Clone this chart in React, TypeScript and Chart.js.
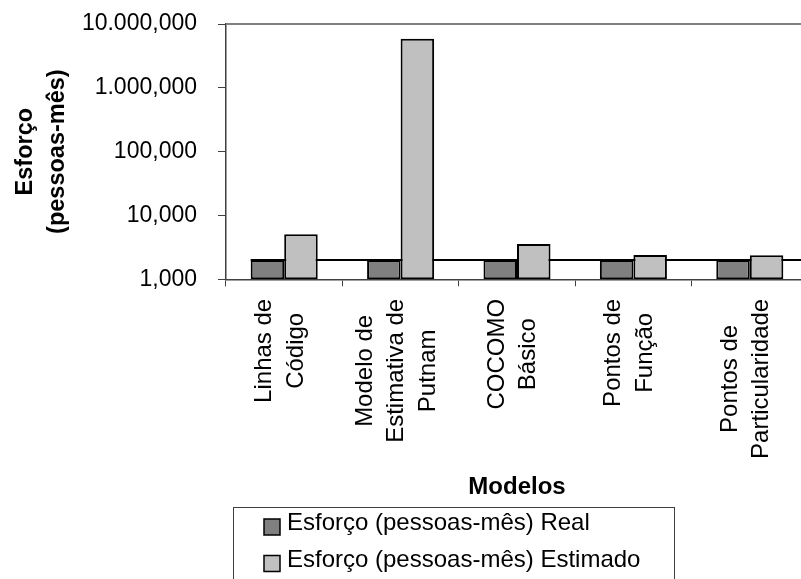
import React, { useEffect, useRef } from "react";
import { Chart, registerables } from "chart.js";

Chart.register(...registerables);

// ---- data ----
const CATEGORY_LINES: string[][] = [
  ["Linhas de", "Código"],
  ["Modelo de", "Estimativa de", "Putnam"],
  ["COCOMO", "Básico"],
  ["Pontos de", "Função"],
  ["Pontos de", "Particularidade"],
];
const SERIES_LABELS = ["Esforço (pessoas-mês) Real", "Esforço (pessoas-mês) Estimado"];
const REAL = [2000, 2000, 2000, 2000, 2000];
const ESTIMADO = [5100, 5900000, 3580, 2400, 2380];
const REFERENCE_LINE = 2000;
const Y_TICK_VALUES = [1000, 10000, 100000, 1000000, 10000000];
const Y_TICK_LABELS = ["1,000", "10,000", "100,000", "1.000,000", "10.000,000"];
const Y_TITLE = ["Esforço", "(pessoas-mês)"];
const X_TITLE = "Modelos";

const FONT = "'Liberation Sans', Arial, sans-serif";
const COLORS = ["#808080", "#c0c0c0"];

const plotFramePlugin = {
  id: "plotFrame",
  beforeDatasetsDraw(chart: any) {
    const { ctx, chartArea } = chart;
    ctx.save();
    ctx.strokeStyle = "#808080";
    ctx.lineWidth = 2;
    ctx.beginPath();
    ctx.moveTo(chartArea.left, chartArea.top);
    ctx.lineTo(chartArea.right, chartArea.top);
    ctx.lineTo(chartArea.right, chartArea.bottom);
    ctx.stroke();
    // reference line at real effort
    const y = chart.scales.y.getPixelForValue(REFERENCE_LINE);
    const first = chart.getDatasetMeta(0).data[0] as any;
    const x0 = first.x - first.width / 2;
    ctx.strokeStyle = "#000";
    ctx.lineWidth = 2;
    ctx.beginPath();
    ctx.moveTo(x0, y);
    ctx.lineTo(chartArea.right, y);
    ctx.stroke();
    ctx.restore();
  },
};

const categoryLabelPlugin = {
  id: "categoryLabels",
  afterDraw(chart: any) {
    const { ctx, chartArea } = chart;
    const xs = chart.scales.x;
    const size = 24;
    const lineH = 31.7;
    ctx.save();
    ctx.font = `${size}px ${FONT}`;
    ctx.fillStyle = "#000";
    ctx.textAlign = "center";
    ctx.textBaseline = "middle";
    CATEGORY_LINES.forEach((lines, i) => {
      const cx = xs.getPixelForValue(i) - 4;
      const maxW = Math.max(...lines.map((l) => ctx.measureText(l).width));
      const cy = chartArea.bottom + 19.5 + maxW / 2;
      const n = lines.length;
      lines.forEach((line, j) => {
        ctx.save();
        ctx.translate(cx + (j - (n - 1) / 2) * lineH, cy);
        ctx.rotate(-Math.PI / 2);
        ctx.fillText(line, 0, 0);
        ctx.restore();
      });
    });
    ctx.restore();
  },
};

const boxLegendPlugin = {
  id: "boxLegend",
  afterDraw(chart: any) {
    const { ctx } = chart;
    const left = 233;
    const top = 507;
    const width = 441;
    const height = 80;
    ctx.save();
    ctx.strokeStyle = "#404040";
    ctx.lineWidth = 1;
    ctx.strokeRect(left + 0.5, top + 0.5, width, height);
    ctx.font = `24px ${FONT}`;
    ctx.textAlign = "left";
    ctx.textBaseline = "alphabetic";
    chart.data.datasets.forEach((ds: any, i: number) => {
      const rowY = top + 12 + i * 36.5;
      ctx.fillStyle = ds.backgroundColor;
      ctx.fillRect(264, rowY, 16, 16);
      ctx.strokeStyle = "#000";
      ctx.lineWidth = 1.5;
      ctx.strokeRect(264, rowY, 16, 16);
      ctx.fillStyle = "#000";
      ctx.fillText(ds.label, 287, rowY + 11);
    });
    ctx.restore();
  },
};

export default function App() {
  const canvasRef = useRef<HTMLCanvasElement | null>(null);

  useEffect(() => {
    if (!canvasRef.current) return;
    const chart = new Chart(canvasRef.current, {
      type: "bar",
      data: {
        labels: CATEGORY_LINES.map((l) => l.join(" ")),
        datasets: [
          {
            label: SERIES_LABELS[0],
            data: REAL,
            backgroundColor: COLORS[0],
            borderColor: "#000",
            borderWidth: 2,
            borderSkipped: false,
            categoryPercentage: 0.576,
            barPercentage: 1,
          },
          {
            label: SERIES_LABELS[1],
            data: ESTIMADO,
            backgroundColor: COLORS[1],
            borderColor: "#000",
            borderWidth: 2,
            borderSkipped: false,
            categoryPercentage: 0.576,
            barPercentage: 1,
          },
        ],
      },
      options: {
        responsive: false,
        animation: false,
        devicePixelRatio: 1,
        layout: { padding: { top: 24, left: 0, right: 0, bottom: 98 } },
        plugins: {
          legend: { display: false },
          tooltip: { enabled: false },
        },
        scales: {
          x: {
            type: "category",
            grid: {
              display: true,
              drawOnChartArea: false,
              drawTicks: true,
              tickLength: 7,
              color: "#404040",
              offset: true,
            },
            border: { display: true, color: "#404040", width: 1.5 },
            ticks: { display: false },
            title: {
              display: true,
              text: X_TITLE,
              color: "#000",
              font: { family: FONT, size: 24, weight: "bold", lineHeight: 1.2 },
              padding: 0,
            },
            afterFit: (s: any) => {
              s.height = 222.7;
            },
          },
          y: {
            type: "logarithmic",
            min: 1000,
            max: 10000000,
            afterBuildTicks: (s: any) => {
              s.ticks = Y_TICK_VALUES.map((v) => ({ value: v }));
            },
            ticks: {
              autoSkip: false,
              color: "#000",
              padding: 21,
              font: { family: FONT, size: 23 },
              callback: (v: any) => {
                const i = Y_TICK_VALUES.indexOf(Number(v));
                return i >= 0 ? Y_TICK_LABELS[i] : "";
              },
            },
            grid: { drawOnChartArea: false, tickLength: 8, color: "#404040" },
            border: { display: true, color: "#404040", width: 1.5 },
            title: {
              display: true,
              text: Y_TITLE,
              color: "#000",
              font: { family: FONT, size: 23.5, weight: "bold", lineHeight: 1.38 },
              padding: { top: 9, bottom: 0 },
            },
            afterFit: (s: any) => {
              s.width = 226;
              s.paddingTop = 12;
              s.paddingBottom = 12;
            },
          },
        },
      } as any,
      plugins: [plotFramePlugin, categoryLabelPlugin, boxLegendPlugin],
    });
    return () => chart.destroy();
  }, []);

  return (
    <div
      style={{
        position: "fixed",
        left: 0,
        top: 0,
        width: 801,
        height: 579,
        overflow: "hidden",
        background: "#fff",
      }}
    >
      <canvas ref={canvasRef} width={808} height={600} style={{ width: 808, height: 600, display: "block" }} />
    </div>
  );
}
